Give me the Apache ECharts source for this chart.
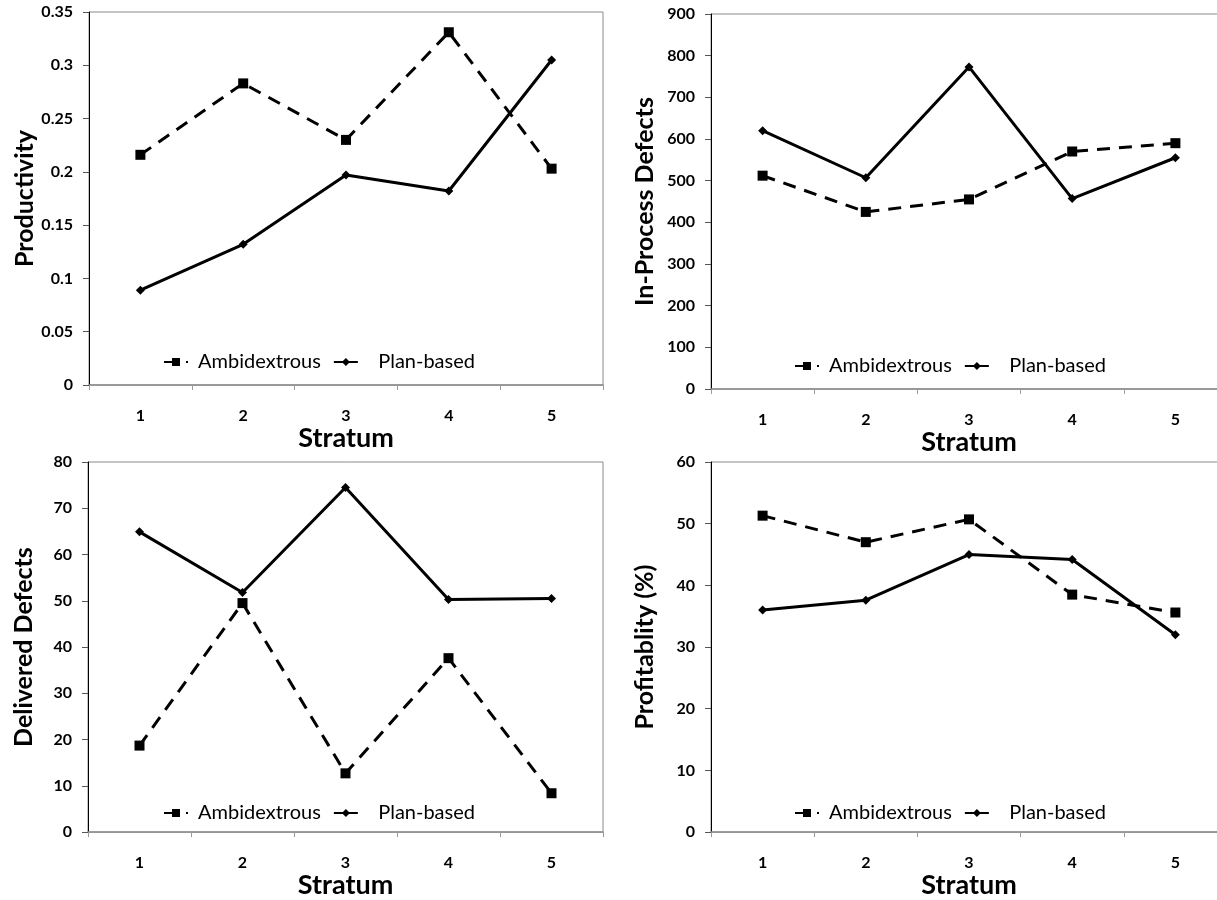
<!DOCTYPE html>
<html>
<head>
<meta charset="utf-8">
<script src="https://cdn.jsdelivr.net/npm/echarts@6/dist/echarts.min.js"></script>
<style>
html,body{margin:0;padding:0;background:#fff;overflow:hidden;}
#chart{width:1232px;height:900px;}
</style>
</head>
<body>
<div id="chart"></div>
<script>
const strata = ['1', '2', '3', '4', '5'];
const seriesNames = ['Ambidextrous', 'Plan-based'];

const productivityAmbi = [0.216, 0.283, 0.230, 0.331, 0.203];
const productivityPlan = [0.089, 0.132, 0.197, 0.182, 0.305];

const inProcessAmbi = [512, 425, 455, 570, 590];
const inProcessPlan = [620, 507, 773, 457, 555];

const deliveredAmbi = [18.7, 49.5, 12.7, 37.6, 8.4];
const deliveredPlan = [64.9, 51.8, 74.5, 50.3, 50.5];

const profitAmbi = [51.3, 47.0, 50.7, 38.5, 35.6];
const profitPlan = [36.0, 37.6, 45.0, 44.2, 32.0];

const yTitles = ['Productivity', 'In-Process Defects', 'Delivered Defects', 'Profitablity (%)'];
const yMax = [0.35, 900, 80, 60];
const yInterval = [0.05, 100, 10, 10];
const xTitle = 'Stratum';

const panels = [
  [productivityAmbi, productivityPlan],
  [inProcessAmbi, inProcessPlan],
  [deliveredAmbi, deliveredPlan],
  [profitAmbi, profitPlan]
];

const FONT = 'Lato, "Liberation Sans", sans-serif';
const grids = [
  {left: 89, top: 12, width: 514, height: 373},
  {left: 711, top: 14, width: 516, height: 375},
  {left: 88, top: 462, width: 515, height: 375},
  {left: 711, top: 462, width: 516, height: 375}
];
const legendPos = [
  {left: 158, top: 347},
  {left: 789, top: 351},
  {left: 158, top: 798},
  {left: 789, top: 798}
];

const option = {
  backgroundColor: '#fff',
  animation: false,
  textStyle: {fontFamily: FONT},
  grid: grids.map(g => Object.assign({show: true, borderColor: '#8a8a8a', borderWidth: 1, backgroundColor: 'transparent'}, g)),
  xAxis: grids.map((g, i) => ({
    type: 'category',
    gridIndex: i,
    data: strata,
    boundaryGap: true,
    axisLine: {lineStyle: {color: '#8a8a8a', width: 1.5}},
    axisTick: {show: true, length: 5, lineStyle: {color: '#9a9a9a'}},
    axisLabel: {color: '#000', fontWeight: 'bold', fontSize: 16, fontFamily: FONT, margin: 23},
    name: xTitle,
    nameLocation: 'middle',
    nameGap: 38,
    nameTextStyle: {color: '#000', fontWeight: 'bold', fontSize: 27, fontFamily: FONT},
    splitLine: {show: false}
  })),
  yAxis: grids.map((g, i) => ({
    type: 'value',
    gridIndex: i,
    min: 0,
    max: yMax[i],
    interval: yInterval[i],
    axisLine: {show: true, lineStyle: {color: '#000', width: 1}},
    axisTick: {show: true, length: 6, lineStyle: {color: '#555'}},
    axisLabel: {color: '#000', fontWeight: 'bold', fontSize: 16, fontFamily: FONT, margin: 16},
    splitLine: {show: false},
    name: yTitles[i],
    nameLocation: 'middle',
    nameGap: i === 1 || i === 3 ? 54 : 52,
    nameTextStyle: {color: '#000', fontWeight: 'bold', fontSize: 25, fontFamily: FONT}
  })),
  legend: legendPos.map(p => ({
    left: p.left,
    top: p.top,
    orient: 'horizontal',
    itemWidth: 24,
    itemHeight: 10,
    itemGap: 12,
    data: seriesNames,
    formatter: name => (name === 'Plan-based' ? '   ' : ' ') + name,
    textStyle: {color: '#000', fontSize: 20, fontFamily: FONT},
    selectedMode: false
  })),
  series: []
};

panels.forEach((pair, i) => {
  option.series.push({
    name: seriesNames[0],
    type: 'line',
    xAxisIndex: i,
    yAxisIndex: i,
    data: pair[0],
    symbol: 'rect',
    symbolSize: 10,
    itemStyle: {color: '#000'},
    lineStyle: {color: '#000', width: 3, type: [13, 9]}
  });
  option.series.push({
    name: seriesNames[1],
    type: 'line',
    xAxisIndex: i,
    yAxisIndex: i,
    data: pair[1],
    symbol: 'diamond',
    symbolSize: 9,
    itemStyle: {color: '#000'},
    lineStyle: {color: '#000', width: 3, type: 'solid'}
  });
});

const chart = echarts.init(document.getElementById('chart'), null, {renderer: 'canvas'});
chart.setOption(option);
</script>
</body>
</html>
